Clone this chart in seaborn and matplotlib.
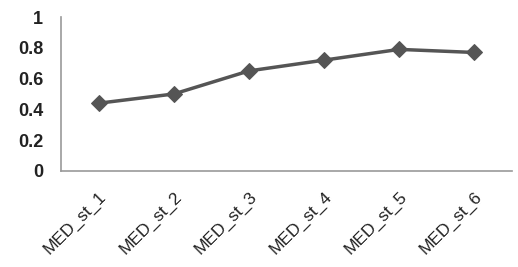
import seaborn as sns
import matplotlib.pyplot as plt
import pandas as pd
from matplotlib.ticker import FixedLocator


stages = ['MED_st_1', 'MED_st_2', 'MED_st_3', 'MED_st_4', 'MED_st_5', 'MED_st_6']
scores = [0.44, 0.50, 0.65, 0.72, 0.79, 0.77]

df = pd.DataFrame({'Stage': stages, 'Score': scores})

sns.set_style('white')
plt.rcParams['font.family'] = ['Liberation Sans', 'DejaVu Sans']

fig = plt.figure(figsize=(5.18, 2.67), dpi=100)
ax = fig.add_axes([0.118, 0.36, 0.87, 0.576])

sns.lineplot(data=df, x='Stage', y='Score', ax=ax, color='#555555',
             linewidth=2.5, marker='D', markersize=8, markeredgecolor='#555555')

ax.set_xlim(-0.5, len(stages) - 0.5)
ax.set_ylim(0, 1)
ax.set_yticks([0, 0.2, 0.4, 0.6, 0.8, 1])
ax.set_yticklabels(['0', '0.2', '0.4', '0.6', '0.8', '1'], fontsize=13, fontweight='bold', color='#222222')
ax.set_xticks(range(len(stages)))
ax.set_xticklabels(stages, rotation=45, ha='right', rotation_mode='anchor', fontsize=12.5, color='#222222')
ax.xaxis.set_minor_locator(FixedLocator([i - 0.5 for i in range(len(stages) + 1)]))
ax.tick_params(axis='x', which='major', length=0, pad=13)
ax.tick_params(axis='x', which='minor', length=5, color='#999999', width=1)
ax.tick_params(axis='y', length=5, color='#999999', width=1, pad=8)
ax.set_xlabel('')
ax.set_ylabel('')

for s in ['top', 'right']:
    ax.spines[s].set_visible(False)
for s in ['left', 'bottom']:
    ax.spines[s].set_color('#999999')
    ax.spines[s].set_linewidth(1.2)

fig.savefig('out.png', dpi=100)
